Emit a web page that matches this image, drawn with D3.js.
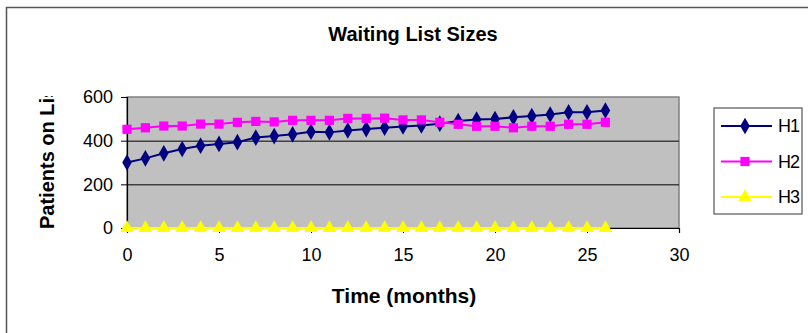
<!DOCTYPE html>
<html><head><meta charset="utf-8">
<script src="https://cdn.jsdelivr.net/npm/d3@7"></script>
<style>body{margin:0;background:#fff}svg{display:block}</style>
</head><body>
<svg id="c" width="808" height="333"></svg>
<script>
const months = d3.range(0, 27);
const h1 = [300,319,342,362,377,385,393,414,421,429,441,438,447,453,459,465,470,478,490,497,499,507,513,520,530,530,538];
const h2 = [452,459,467,467,476,476,484,488,486,493,493,493,502,502,503,495,495,484,475,466,466,459,466,466,475,475,484];
const h3 = months.map(() => 0);
const seriesNames = ["H1","H2","H3"];
const seriesColors = ["#000080","#FF00FF","#FFFF00"];
const seriesShapes = [d3.symbolDiamond, d3.symbolSquare, d3.symbolTriangle];
const xTicks = [0,5,10,15,20,25,30];
const yTicks = [0,200,400,600];

const svg = d3.select("#c");
const font = "Liberation Sans, Arial, sans-serif";
// outer border
svg.append("rect").attr("x",6.5).attr("y",7.5).attr("width",820).attr("height",340)
  .attr("fill","#fff").attr("stroke","#555").attr("stroke-width",1.5);

const L=127, R=679, T=97, B=228;
const x = d3.scaleLinear().domain([0,30]).range([L,R]);
const y = d3.scaleLinear().domain([0,600]).range([B,T]);

svg.append("rect").attr("x",L).attr("y",T).attr("width",R-L).attr("height",B-T)
  .attr("fill","#c0c0c0").attr("stroke","#808080").attr("stroke-width",1.5);
svg.append("g").selectAll("line").data(yTicks.filter(v=>v>0&&v<600)).join("line")
  .attr("x1",L).attr("x2",R).attr("y1",d=>y(d)+0.5).attr("y2",d=>y(d)+0.5)
  .attr("stroke","#000").attr("stroke-width",1);

const yAxis = svg.append("g").attr("transform",`translate(${L},0)`)
  .call(d3.axisLeft(y).tickValues(yTicks).tickSize(6).tickPadding(8));
const xAxis = svg.append("g").attr("transform",`translate(0,${B})`)
  .call(d3.axisBottom(x).tickValues(xTicks).tickSize(5).tickPadding(15));
[yAxis,xAxis].forEach(a=>{
  a.select(".domain").attr("stroke","#000").attr("stroke-width",1.2);
  a.selectAll(".tick line").attr("stroke","#000");
  a.selectAll("text").attr("font-family",font).attr("font-size",18).attr("fill","#000");
});

const data = [h1,h2,h3];
const line = d3.line().x((d,i)=>x(months[i])).y(d=>y(d));
data.forEach((s,k)=>{
  svg.append("path").datum(s).attr("d",line).attr("fill","none")
    .attr("stroke",seriesColors[k]).attr("stroke-width",2);
  svg.append("g").selectAll("path").data(s).join("path")
    .attr("transform",(d,i)=>`translate(${x(months[i])},${y(d)})`)
    .attr("d",d3.symbol().type(seriesShapes[k]).size(k===1?85:80))
    .attr("fill",seriesColors[k]);
});

// titles
svg.append("text").attr("x",413).attr("y",41).attr("text-anchor","middle")
  .attr("font-family",font).attr("font-weight","bold").attr("font-size",20)
  .text("Waiting List Sizes");
svg.append("text").attr("x",404).attr("y",303).attr("text-anchor","middle")
  .attr("font-family",font).attr("font-weight","bold").attr("font-size",21)
  .text("Time (months)");
svg.append("clipPath").attr("id","yc").append("rect").attr("x",0).attr("y",96).attr("width",120).attr("height",200);
svg.append("g").attr("clip-path","url(#yc)").append("text")
  .attr("transform","translate(54,229) rotate(-90)")
  .attr("font-family",font).attr("font-weight","bold").attr("font-size",20)
  .text("Patients on List");

// legend
svg.append("rect").attr("x",714).attr("y",108).attr("width",88).attr("height",106)
  .attr("fill","#fff").attr("stroke","#555").attr("stroke-width",1.2);
seriesNames.forEach((n,k)=>{
  const ly = 126 + k*35.5;
  svg.append("line").attr("x1",721).attr("x2",772).attr("y1",ly).attr("y2",ly)
    .attr("stroke",seriesColors[k]).attr("stroke-width",2);
  svg.append("path").attr("transform",`translate(745,${ly})`)
    .attr("d",d3.symbol().type(seriesShapes[k]).size(k===1?85:80)).attr("fill",seriesColors[k]);
  svg.append("text").attr("x",778).attr("y",ly+6).attr("font-family",font).attr("font-size",18)
    .attr("letter-spacing",-1).text(n);
});
</script>
</body></html>
